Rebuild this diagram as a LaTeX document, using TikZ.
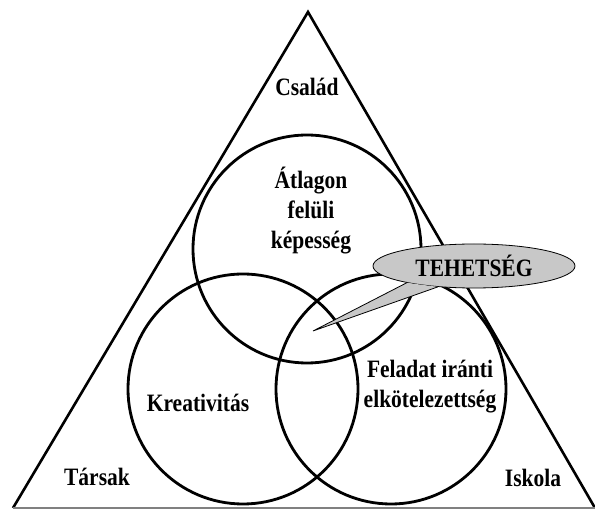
\documentclass[tikz,border=0pt]{standalone}
\usepackage{fontspec}
\newfontfamily\lblfont[FakeStretch=0.86]{Liberation Serif}
\usetikzlibrary{shapes.geometric}
\definecolor{calloutgray}{RGB}{200,200,200}

\begin{document}
\begin{tikzpicture}[x=1pt, y=-1pt,
  every node/.style={font=\lblfont\bfseries\fontsize{25}{30}\selectfont, align=center},
  ring/.style={circle, draw, line width=2.8pt, minimum size=230pt, inner sep=0pt},
  side/.style={line width=2.6pt}]
  \useasboundingbox (0,0) rectangle (595,510);

  % triangle
  \coordinate (apex) at (308,12);
  \coordinate (bl) at (13,508);
  \coordinate (br) at (595,508);
  \draw[side] (bl) -- (apex) -- (br);
  \draw[gray, line width=2pt] (bl) -- (br);

  % the three circles
  \node[ring, minimum size=228pt] (ability) at (307,249) {};
  \node[ring] (creativity) at (243,389) {};
  \node[ring] (commitment) at (391,389) {};

  \node (csalad) at (307,87) {Család};
  \node (atlag) at (311,211) {Átlagon\\felüli\\képesség};
  \node (kreat) at (198,403) {Kreativitás};
  \node (feladat) at (430,387) {Feladat iránti\\elkötelezettség};
  \node (tarsak) at (97,477) {Társak};
  \node (iskola) at (533,478) {Iskola};

  % callout
  \node[ellipse, draw, fill=calloutgray, line width=0.8pt, minimum width=202pt,
        minimum height=44pt, inner sep=0pt] (talent) at (474,266) {TEHETSÉG};
  \coordinate (tip) at (313,331);
  \fill[calloutgray] (talent.194) -- (tip) -- (talent.210) -- cycle;
  \draw[line width=0.8pt] (talent.194) -- (tip) -- (talent.210);
\end{tikzpicture}
\end{document}
